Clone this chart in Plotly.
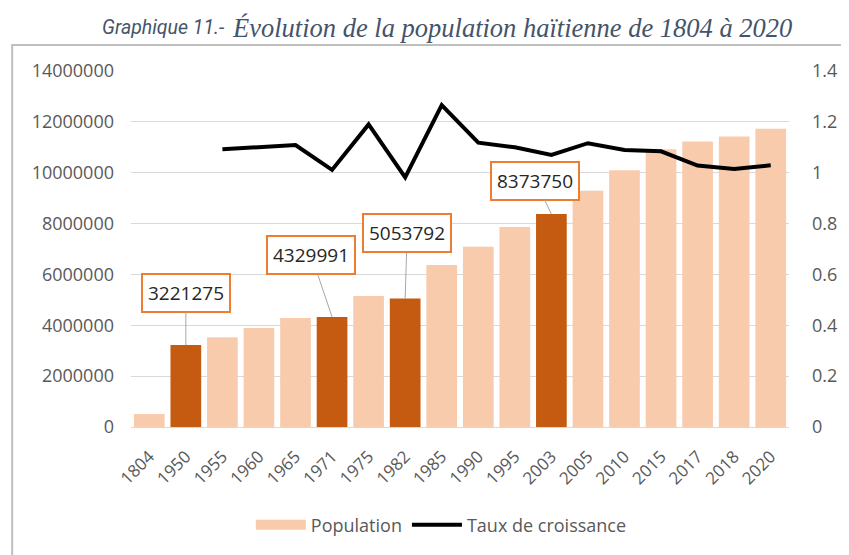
import plotly.graph_objects as go

years = ["1804", "1950", "1955", "1960", "1965", "1971", "1975", "1982", "1985",
         "1990", "1995", "2003", "2005", "2010", "2015", "2017", "2018", "2020"]
population = [510000, 3221275, 3530000, 3890000, 4290000, 4329991, 5150000, 5053792, 6370000,
              7090000, 7870000, 8373750, 9290000, 10100000, 10920000, 11230000, 11420000, 11730000]
growth_rate = [None, None, 1.092, 1.102, 1.109, 1.011, 1.190, 0.982, 1.266,
               1.118, 1.100, 1.070, 1.116, 1.089, 1.084, 1.028, 1.015, 1.029]
census_years = ["1950", "1971", "1982", "2003"]

LIGHT = "#F8CBAD"
DARK = "#C55A11"
GRAY = "#595959"
FONT = "Open Sans"
TITLE_COLOR = "#44546A"

bar_colors = [DARK if y in census_years else LIGHT for y in years]

fig = go.Figure()
fig.add_trace(go.Bar(x=years, y=population, name="Population", showlegend=False,
                     marker=dict(color=bar_colors, line=dict(width=0))))
# legend entry for the bars, drawn as a wide swatch like the original
fig.add_trace(go.Scatter(x=[None], y=[None], name="Population", mode="lines",
                         line=dict(color=LIGHT, width=13)))
fig.add_trace(go.Scatter(x=years, y=growth_rate, name="Taux de croissance", yaxis="y2",
                         mode="lines", line=dict(color="black", width=4)))

# callouts on the census years (x given as category index)
offsets = {"1950": (0, -52), "1971": (-21, -62), "1982": (2, -65), "2003": (-16, -33)}
for y in census_years:
    i = years.index(y)
    ax, ay = offsets[y]
    fig.add_annotation(x=i, y=population[i], text=str(population[i]),
                       showarrow=True, arrowhead=0, arrowwidth=1, arrowcolor="#A6A6A6",
                       ax=ax, ay=ay, standoff=0,
                       bgcolor="white", bordercolor="#ED7D31", borderwidth=2, borderpad=5,
                       font=dict(family=FONT, size=19, color="#262626"))

# title in two fonts, like the original
fig.add_annotation(text="<i>Graphique 11.-</i>", xref="paper", yref="paper",
                   x=(229 - 131) / 670, y=(427 - 28) / 356, showarrow=False,
                   xanchor="right", yanchor="middle",
                   font=dict(family="Roboto", size=19.5, color=TITLE_COLOR))
fig.add_annotation(text="<i>Évolution de la population haïtienne de 1804 à 2020</i>",
                   xref="paper", yref="paper",
                   x=(232 - 131) / 670, y=(427 - 28) / 356, showarrow=False,
                   xanchor="left", yanchor="middle",
                   font=dict(family="Liberation Serif", size=26.5, color=TITLE_COLOR))

# chart frame
fig.add_shape(type="rect", xref="paper", yref="paper",
              x0=(10 - 131) / 670, x1=(870 - 131) / 670,
              y0=(427 - 580) / 356, y1=(427 - 45) / 356,
              line=dict(color="#BFBFBF", width=2), fillcolor="rgba(0,0,0,0)")

fig.update_layout(
    width=841, height=547,
    margin=dict(l=123, r=48, t=63, b=128),
    paper_bgcolor="white", plot_bgcolor="white",
    bargap=0.16,
    showlegend=True,
    legend=dict(orientation="h", x=(447 - 131) / 670, xanchor="center",
                y=(427 - 525) / 356, yanchor="middle", itemwidth=50,
                font=dict(family=FONT, size=18, color=GRAY)),
    xaxis=dict(type="category", range=[-0.5, len(years) - 0.5], tickangle=-45,
               showgrid=False, showline=True, linecolor="#D9D9D9", linewidth=1, ticks="",
               ticklabelstandoff=12,
               tickfont=dict(family=FONT, size=17, color=GRAY)),
    yaxis=dict(range=[0, 14000000], dtick=2000000, tickformat=".0f",
               gridcolor="#D9D9D9", gridwidth=1, zeroline=False, ticks="",
               ticklabelstandoff=16,
               tickfont=dict(family=FONT, size=18, color=GRAY)),
    yaxis2=dict(range=[0, 1.4], dtick=0.2, overlaying="y", side="right",
                showgrid=False, zeroline=False, ticks="", ticklabelstandoff=22,
                tickfont=dict(family=FONT, size=18, color=GRAY)),
)

fig.write_html("out.html")
